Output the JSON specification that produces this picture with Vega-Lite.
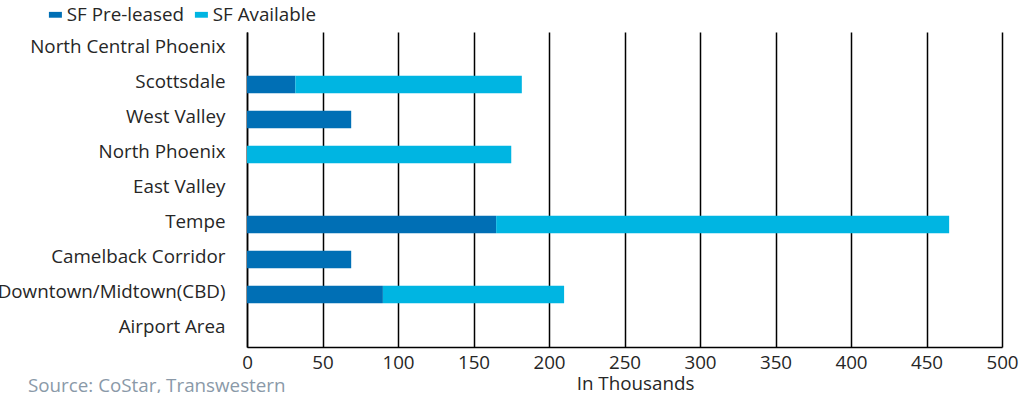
{
  "$schema": "https://vega.github.io/schema/vega-lite/v6.json",
  "width": 755,
  "height": 315,
  "autosize": {"type": "none"},
  "padding": {"left": 247, "top": 32, "right": 20, "bottom": 46},
  "background": "#ffffff",
  "config": {
    "font": "Open Sans",
    "view": {"stroke": null},
    "axis": {"labelColor": "#262626", "titleColor": "#262626", "labelFont": "Open Sans", "titleFont": "Open Sans"}
  },
  "title": {
    "text": "Source: CoStar, Transwestern",
    "orient": "bottom",
    "anchor": "start",
    "frame": "group",
    "dx": -219,
    "dy": -20,
    "fontSize": 18.8,
    "fontWeight": "normal",
    "color": "#8a99a8",
    "font": "Open Sans"
  },
  "data": {
    "values": [
      {"market": "Scottsdale", "type": "SF Pre-leased", "value": 32},
      {"market": "Scottsdale", "type": "SF Available", "value": 150},
      {"market": "West Valley", "type": "SF Pre-leased", "value": 69},
      {"market": "North Phoenix", "type": "SF Available", "value": 175},
      {"market": "Tempe", "type": "SF Pre-leased", "value": 165},
      {"market": "Tempe", "type": "SF Available", "value": 300},
      {"market": "Camelback Corridor", "type": "SF Pre-leased", "value": 69},
      {"market": "Downtown/Midtown(CBD)", "type": "SF Pre-leased", "value": 90},
      {"market": "Downtown/Midtown(CBD)", "type": "SF Available", "value": 120}
    ]
  },
  "mark": {"type": "bar", "orient": "horizontal"},
  "encoding": {
    "y": {
      "field": "market",
      "type": "nominal",
      "scale": {
        "domain": ["North Central Phoenix", "Scottsdale", "West Valley", "North Phoenix", "East Valley", "Tempe", "Camelback Corridor", "Downtown/Midtown(CBD)", "Airport Area"],
        "paddingInner": 0.5,
        "paddingOuter": 0.25
      },
      "axis": {
        "title": null,
        "ticks": false,
        "domain": true,
        "domainColor": "#000000",
        "domainWidth": 1.5,
        "labelFontSize": 18.8,
        "labelPadding": 22,
        "labelLimit": 300,
        "labelBaseline": "middle",
        "labelOffset": -3
      }
    },
    "x": {
      "field": "value",
      "type": "quantitative",
      "stack": "zero",
      "scale": {"domain": [0, 500], "nice": false},
      "axis": {
        "title": "In Thousands",
        "titleFontSize": 18.8,
        "titleFontWeight": "normal",
        "titleBaseline": "alphabetic",
        "titleX": 388,
        "titleY": 42,
        "values": [0, 50, 100, 150, 200, 250, 300, 350, 400, 450, 500],
        "grid": true,
        "gridColor": "#000000",
        "gridWidth": 1.5,
        "gridOpacity": 1,
        "domainColor": "#000000",
        "domainWidth": 1.5,
        "ticks": false,
        "labelFontSize": 18.8,
        "labelPadding": 6,
        "labelFlush": false
      }
    },
    "color": {
      "field": "type",
      "type": "nominal",
      "scale": {"domain": ["SF Pre-leased", "SF Available"], "range": ["#006fb5", "#00b5e2"]},
      "legend": {
        "title": null,
        "orient": "none",
        "direction": "horizontal",
        "legendX": -203,
        "legendY": -27,
        "symbolType": "M-1,-0.45H1V0.45H-1Z",
        "symbolSize": 169,
        "symbolStrokeWidth": 0,
        "symbolOffset": 2,
        "labelFontSize": 18.8,
        "labelColor": "#262626",
        "labelOffset": 2,
        "columnPadding": 6
      }
    },
    "order": {"field": "type", "sort": "descending"}
  }
}
